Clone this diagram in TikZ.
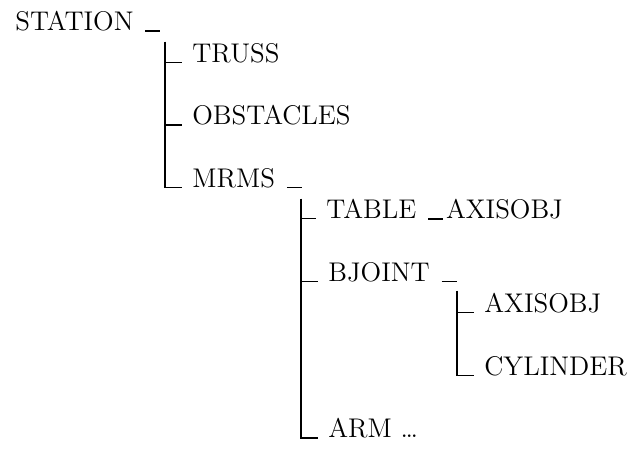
\documentclass[tikz,border=0pt]{standalone}
\usepackage{fontspec}
\usepackage{tikz}

% Trailing underscore after a parent entry.
\newcommand{\trail}{\hspace{1.5pt}\rule[-0.4pt]{7.5pt}{0.7pt}}

\begin{document}
\begin{tikzpicture}[x=0.5pt, y=0.5pt, entry/.style = {anchor=base west, inner xsep=0pt}, leaf/.style = {anchor=base west, inner xsep=5pt}, branch/.style = {line width=0.65pt}, font=\fontsize{13.5pt}{16}\selectfont]
  \useasboundingbox (0, 0) rectangle (628, -453);

  % Entries.
  \node at (15, -31) [entry, name=Station] {STATION \trail};
  \node at (182, -62.3) [leaf, name=Truss] {TRUSS};
  \node at (182, -124.9) [leaf, name=Obstacles] {OBSTACLES};
  \node at (182, -187.5) [leaf, name=Mrms] {MRMS \trail};
  \node at (316, -218.8) [leaf, name=Table] {TABLE \trail\hspace{1.5pt}AXISOBJ};
  \node at (318, -281.4) [leaf, name=Bjoint] {BJOINT \trail};
  \node at (474, -312.7) [leaf, name=Axisobj] {AXISOBJ};
  \node at (474, -375.3) [leaf, name=Cylinder] {CYLINDER};
  \node at (318, -437.9) [leaf, name=Arm] {ARM \ldots};

  % Tops of the vertical bars.
  \coordinate (StationBar) at (165, -42);
  \coordinate (MrmsBar) at (301, -199);
  \coordinate (BjointBar) at (457, -291);

  % Branches.
  \draw [branch] (StationBar)
                 |- (Truss.base west);
  \draw [branch] (StationBar)
                 |- (Obstacles.base west);
  \draw [branch] (StationBar)
                 |- (Mrms.base west);
  \draw [branch] (MrmsBar)
                 |- (Table.base west);
  \draw [branch] (MrmsBar)
                 |- (Bjoint.base west);
  \draw [branch] (MrmsBar)
                 |- (Arm.base west);
  \draw [branch] (BjointBar)
                 |- (Axisobj.base west);
  \draw [branch] (BjointBar)
                 |- (Cylinder.base west);
\end{tikzpicture}
\end{document}
